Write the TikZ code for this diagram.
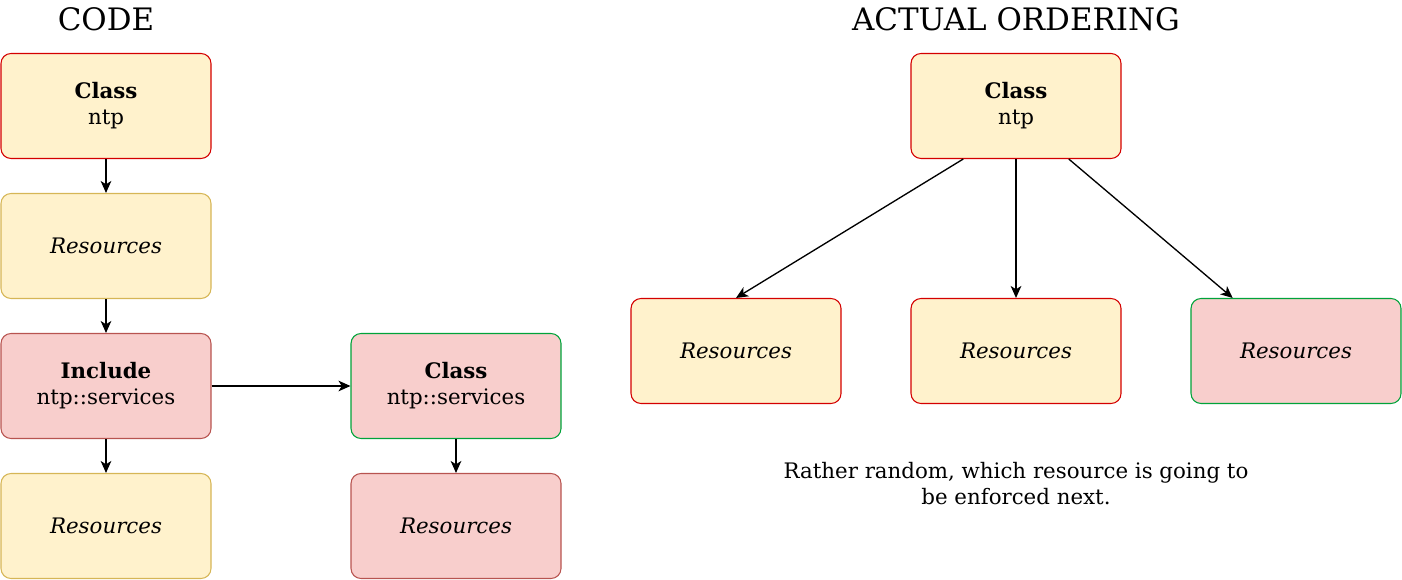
\documentclass[tikz,border=0pt]{standalone}
\usepackage{fontspec}
\setmainfont{DejaVu Serif}
\usetikzlibrary{arrows.meta,calc}

\definecolor{ylwfill}{HTML}{FFF2CC}
\definecolor{ylwline}{HTML}{D6B656}
\definecolor{redfill}{HTML}{F8CECC}
\definecolor{redline}{HTML}{B85450}
\definecolor{brightred}{HTML}{D40000}
\definecolor{brightgreen}{HTML}{00A33A}

\begin{document}
\begin{tikzpicture}[x=0.75pt,y=-0.75pt,
  >={Stealth[length=9pt,width=8pt,inset=2.5pt]},
  every node/.style={font=\fontsize{16}{19.5}\selectfont},
  box/.style={draw,rounded corners=7.5pt,line width=0.8pt,minimum width=157.5pt,minimum height=78.75pt,align=center,inner sep=0pt},
  yr/.style={box,fill=ylwfill,draw=brightred},
  yy/.style={box,fill=ylwfill,draw=ylwline},
  rr/.style={box,fill=redfill,draw=redline},
  rg/.style={box,fill=redfill,draw=brightgreen},
  ttl/.style={font=\fontsize{23.2}{27}\selectfont}]

  \useasboundingbox (0,0) rectangle (1402,580);

  % CODE
  \node[ttl] (tcode) at (106, 19) {CODE};
  \node[yr] (cntp) at (106, 106) {\textbf{Class}\\ntp};
  \node[yy] (res1) at (106, 246) {\textit{Resources}};
  \node[rr] (inc) at (106, 386) {\textbf{Include}\\ntp::services};
  \node[yy] (res2) at (106, 526) {\textit{Resources}};
  \node[rg] (csrv) at (456, 386) {\textbf{Class}\\ntp::services};
  \node[rr] (res3) at (456, 526) {\textit{Resources}};

  \draw[->, line width=1pt] (cntp) -- (res1);
  \draw[->, line width=1pt] (res1) -- (inc);
  \draw[->, line width=1pt] (inc) -- (res2);
  \draw[->, line width=1pt] (inc) -- (csrv);
  \draw[->, line width=1pt] (csrv) -- (res3);

  % ACTUAL ORDERING
  \node[ttl] (tact) at (1016, 19) {ACTUAL ORDERING};
  \node[yr] (antp) at (1016, 106) {\textbf{Class}\\ntp};
  \node[yr] (ra) at (736, 351) {\textit{Resources}};
  \node[yr] (rb) at (1016, 351) {\textit{Resources}};
  \node[rg] (rc) at (1296, 351) {\textit{Resources}};
  \node[align=center] (note) at (1016, 484) {Rather random, which resource is going to\\be enforced next.};

  \draw[->, line width=1pt] ($(antp.south)!0.5!(antp.south west)$) -- (ra.north);
  \draw[->, line width=1pt] (antp) -- (rb);
  \draw[->, line width=1pt] ($(antp.south)!0.5!(antp.south east)$) -- ($(rc.north west)!0.2!(rc.north east)$);

\end{tikzpicture}
\end{document}
